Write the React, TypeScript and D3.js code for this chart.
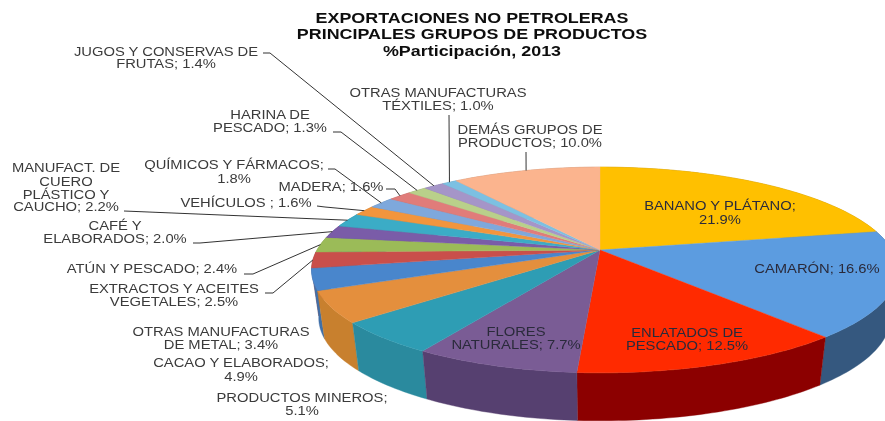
import React from "react";
import * as d3 from "d3";

const W = 885;
const H = 421;

const titleLines = ["EXPORTACIONES NO PETROLERAS", "PRINCIPALES GRUPOS DE PRODUCTOS", "%Participación, 2013"];
const titleY = [23, 39, 56];

const categories = [
  "BANANO Y PLÁTANO", "CAMARÓN", "ENLATADOS DE PESCADO", "FLORES NATURALES", "PRODUCTOS MINEROS",
  "CACAO Y ELABORADOS", "OTRAS MANUFACTURAS DE METAL", "EXTRACTOS Y ACEITES VEGETALES", "ATÚN Y PESCADO",
  "CAFÉ Y ELABORADOS", "MANUFACT. DE CUERO PLÁSTICO Y CAUCHO", "VEHÍCULOS", "QUÍMICOS Y FÁRMACOS", "MADERA",
  "HARINA DE PESCADO", "JUGOS Y CONSERVAS DE FRUTAS", "OTRAS MANUFACTURAS TÉXTILES", "DEMÁS GRUPOS DE PRODUCTOS",
];
const values = [21.9, 16.6, 12.5, 7.7, 5.1, 4.9, 3.4, 2.5, 2.4, 2.0, 2.2, 1.6, 1.8, 1.6, 1.3, 1.4, 1.0, 10.0];
const topColors = [
  "#ffc000", "#5c9ce0", "#ff2a00", "#7a5c95", "#2f9db4", "#e48f3e", "#4a86cc", "#c9504c", "#9bbb59",
  "#7a5ba8", "#3bacc6", "#f2953c", "#7ea8dc", "#e07c7a", "#b9d08a", "#a595c8", "#7cc0e2", "#fbb48e",
];
const sideColors = [
  "#b38600", "#34587f", "#8c0500", "#574070", "#2a8a9e", "#c8802e", "#3f6fa8", "#933a38", "#74903e",
  "#5a4280", "#2a8198", "#b86f2c", "#5a7ea8", "#a85c5a", "#8a9c66", "#7c6f96", "#5c90aa", "#bc876a",
];
const labelLines = [
  ["BANANO Y PLÁTANO;", "21.9%"], ["CAMARÓN; 16.6%"], ["ENLATADOS DE", "PESCADO; 12.5%"], ["FLORES", "NATURALES; 7.7%"],
  ["PRODUCTOS MINEROS;", "5.1%"], ["CACAO Y ELABORADOS;", "4.9%"], ["OTRAS MANUFACTURAS", "DE METAL; 3.4%"],
  ["EXTRACTOS Y ACEITES", "VEGETALES; 2.5%"], ["ATÚN Y PESCADO; 2.4%"], ["CAFÉ Y", "ELABORADOS; 2.0%"],
  ["MANUFACT. DE", "CUERO", "PLÁSTICO Y", "CAUCHO; 2.2%"], ["VEHÍCULOS ; 1.6%"], ["QUÍMICOS Y FÁRMACOS;", "1.8%"],
  ["MADERA; 1.6%"], ["HARINA DE", "PESCADO; 1.3%"], ["JUGOS Y CONSERVAS DE", "FRUTAS; 1.4%"],
  ["OTRAS MANUFACTURAS", "TÉXTILES; 1.0%"], ["DEMÁS GRUPOS DE", "PRODUCTOS; 10.0%"],
];
const labelX = [720, 817, 687, 516, 302, 241, 221, 174, 152, 115, 66, 246, 234, 331, 270, 166, 438, 530];
const labelY = [
  [210, 224], [273], [337, 350], [336, 349], [402, 415], [367, 381], [336, 349], [293, 306], [273], [230, 243],
  [172, 186, 199, 211], [207], [169, 183], [191], [119, 132], [56, 68], [97, 110], [134, 147],
];
// leader polyline from the label to the slice's rim (the rim point is computed)
const leaderStart: (number[][] | null)[] = [
  null, null, null, null, null, null, null,
  [[265, 293], [273, 293]], [[244, 274], [253, 274]], [[193, 243], [200, 243]],
  [[124, 211]], [[317, 206], [325, 207]], [[328, 169], [335, 169]], [[386, 189], [395, 189]],
  [[333, 132], [341, 132]], [[263, 53], [270, 53]], [[449, 115]], [[526, 152]],
];

// perspective projection of the unit disc
const CX = 600, CY = 250, A_LEFT = 283, A_RIGHT = 292, B = 99, K = 0.194, DEPTH = 48, BOTTOM_SCALE = 0.975;
function project(theta: number, bottom = false): [number, number] {
  const X = Math.sin(theta);
  const Y = Math.cos(theta);
  const d = 1 + K * Y;
  const s = bottom ? BOTTOM_SCALE : 1;
  const A = X >= 0 ? A_RIGHT : A_LEFT;
  return [CX + (s * A * X) / d, CY - (B * Y) / d + (bottom ? DEPTH : 0)];
}

const arcs = d3.pie<number>().sort(null).value((d) => d).startAngle(0).endAngle(2 * Math.PI)(values);
const lineGen = d3.line();

function samples(a0: number, a1: number): number[] {
  const n = Math.max(4, Math.ceil((a1 - a0) / 0.02));
  return d3.range(n + 1).map((i) => a0 + ((a1 - a0) * i) / n);
}

const midCos = (i: number) => Math.cos((arcs[i].startAngle + arcs[i].endAngle) / 2);

export default function App() {
  const topPaths = arcs.map((a) => {
    const pts = samples(a.startAngle, a.endAngle).map((t) => project(t));
    return lineGen([[CX, CY], ...pts])! + "Z";
  });
  const sideOrder = d3.range(arcs.length).sort((p, q) => midCos(q) - midCos(p));
  const sidePaths = arcs.map((a) => {
    const ts = samples(a.startAngle, a.endAngle);
    const pts = [...ts.map((t) => project(t)), ...ts.slice().reverse().map((t) => project(t, true))];
    return lineGen(pts)! + "Z";
  });
  const stretch = (x: number, y: number, sx: number) => `translate(${x},${y}) scale(${sx},1)`;
  return (
    <svg width={W} height={H} viewBox={`0 0 ${W} ${H}`} style={{ position: "absolute", left: 0, top: 0, background: "#fff" }}>
      <defs>
        <filter id="soft" x="-5%" y="-5%" width="110%" height="110%">
          <feGaussianBlur stdDeviation="0.7" />
        </filter>
        <filter id="softText" x="-5%" y="-5%" width="110%" height="110%">
          <feGaussianBlur stdDeviation="0.35" />
        </filter>
      </defs>
      <g filter="url(#soft)">
        {sideOrder.map((i) => (
          <path key={i} d={sidePaths[i]} fill={sideColors[i]} stroke={sideColors[i]} strokeWidth={0.4} />
        ))}
        {topPaths.map((d, i) => (
          <path key={i} d={d} fill={topColors[i]} stroke={topColors[i]} strokeWidth={0.4} />
        ))}
      </g>
      <g filter="url(#softText)">
        {leaderStart.map((pts, i) => {
          if (!pts) return null;
          const mid = (arcs[i].startAngle + arcs[i].endAngle) / 2;
          return (
            <path key={i} d={lineGen([...(pts as [number, number][]), project(mid)])!} fill="none" stroke="#333" strokeWidth={1} />
          );
        })}
        <g fontFamily="'Liberation Sans', Arial, sans-serif" fontSize={12} textAnchor="middle">
          {labelLines.map((lines, i) =>
            lines.map((t, j) => (
              <text key={`${i}-${j}`} transform={stretch(labelX[i], labelY[i][j], 1.23)} fill={i < 4 ? "#2a2a3a" : "#3a3a3a"}>
                {t}
              </text>
            )),
          )}
        </g>
        <g fontFamily="'Liberation Sans', Arial, sans-serif" fontSize={14} fontWeight="bold" fill="#111" textAnchor="middle">
          {titleLines.map((t, i) => (
            <text key={i} transform={stretch(472, titleY[i], 1.28)}>
              {t}
            </text>
          ))}
        </g>
      </g>
    </svg>
  );
}
